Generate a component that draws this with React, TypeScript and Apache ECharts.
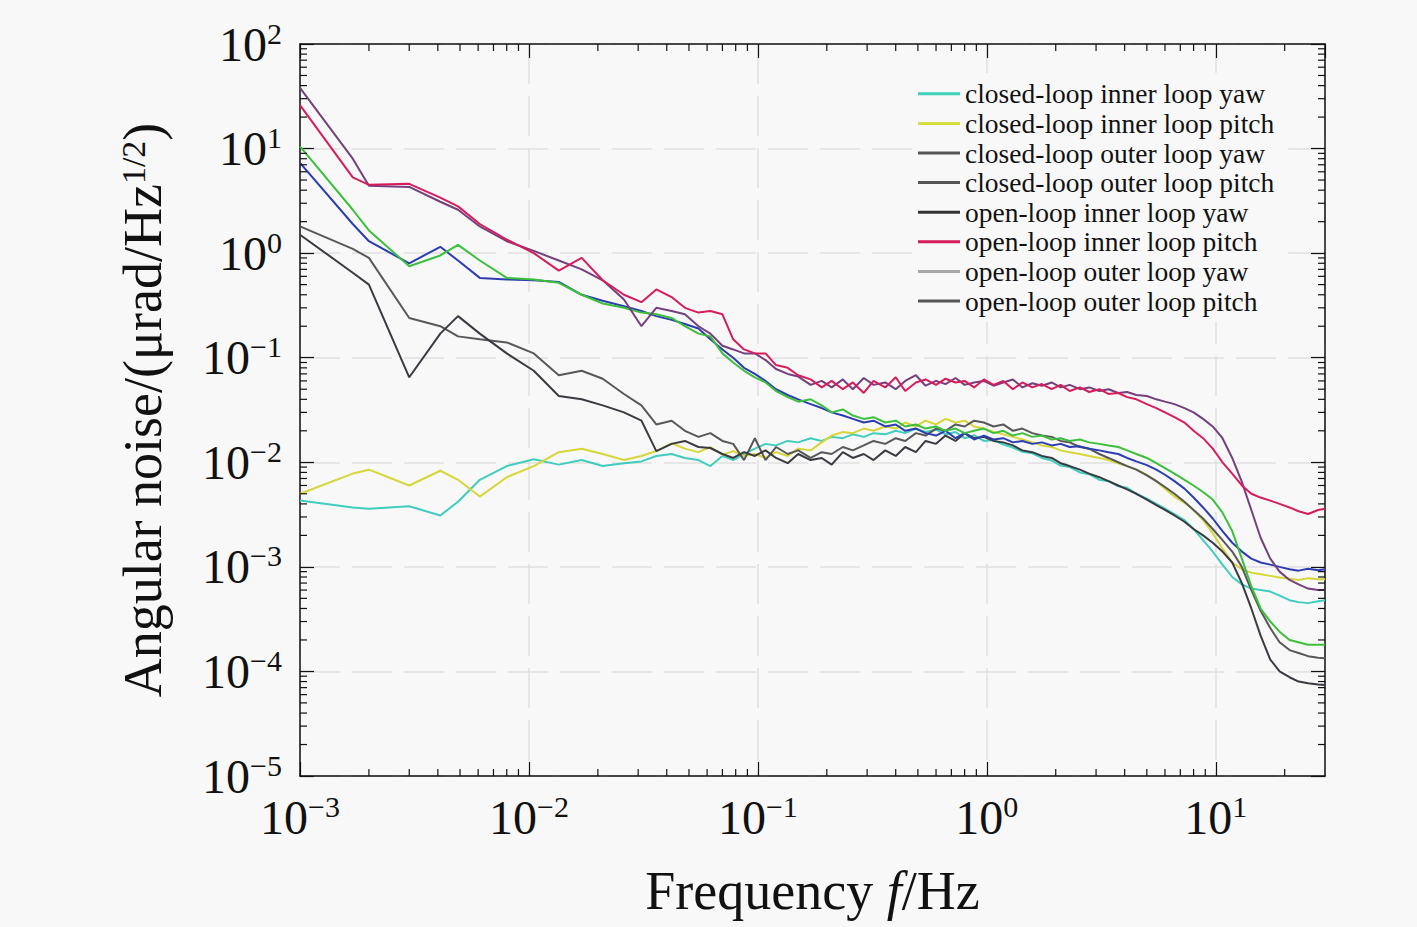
import React, { useEffect, useRef } from "react";
import * as echarts from "echarts";

const FONT = "'Liberation Serif', 'Times New Roman', 'DejaVu Serif', serif";

const FREQ = [
  0.001, 0.0017, 0.002, 0.003, 0.0041, 0.0049, 0.0061, 0.008, 0.0105, 0.0135,
  0.017, 0.021, 0.026, 0.031, 0.036, 0.042, 0.048, 0.055, 0.062, 0.07,
  0.078, 0.087, 0.097, 0.108, 0.12, 0.135, 0.15, 0.17, 0.19, 0.21,
  0.235, 0.26, 0.29, 0.32, 0.36, 0.4, 0.44, 0.49, 0.54, 0.6,
  0.66, 0.73, 0.8, 0.88, 0.97, 1.07, 1.18, 1.3, 1.43, 1.58,
  1.74, 1.92, 2.1, 2.3, 2.55, 2.8, 3.1, 3.4, 3.75, 4.1,
  4.5, 5.0, 5.5, 6.0, 6.6, 7.3, 8.0, 8.8, 9.7, 10.7,
  11.8, 13, 14.3, 15.7, 17.3, 19, 21, 23, 25.3, 28,
  30,
];

const CL_INNER_YAW = [
  0.0043, 0.0037, 0.0036, 0.0038, 0.0031, 0.0042, 0.0068, 0.0092, 0.0107, 0.0095,
  0.0105, 0.0092, 0.0098, 0.0102, 0.0115, 0.012, 0.011, 0.0105, 0.0092, 0.0115,
  0.0105, 0.012, 0.0135, 0.015, 0.0145, 0.016, 0.0155, 0.017, 0.016, 0.0175,
  0.017, 0.0185, 0.0175, 0.019, 0.0185, 0.02, 0.019, 0.021, 0.0195, 0.0205,
  0.0185, 0.0195, 0.017, 0.0182, 0.016, 0.0163, 0.0148, 0.0138, 0.0126, 0.0122,
  0.011, 0.0104, 0.0093, 0.009, 0.008, 0.0077, 0.0068, 0.0066, 0.0059, 0.0057,
  0.005, 0.0045, 0.004, 0.0036, 0.0032, 0.0028, 0.0023, 0.0018, 0.0014, 0.00105,
  0.0008, 0.00068, 0.00062, 0.0006, 0.00058, 0.00053, 0.00048, 0.00046, 0.00045, 0.00047,
  0.00048,
];

const CL_INNER_PITCH = [
  0.005, 0.0078, 0.0085, 0.006, 0.0083, 0.0068, 0.0047, 0.0072, 0.0092, 0.0125,
  0.0135, 0.012, 0.0105, 0.0115, 0.0128, 0.0152, 0.0135, 0.0125, 0.014, 0.0118,
  0.0128, 0.0115, 0.012, 0.011, 0.0125, 0.0115, 0.0135, 0.013, 0.0155, 0.018,
  0.0195, 0.019, 0.021, 0.02, 0.022, 0.021, 0.024, 0.022, 0.025, 0.023,
  0.026, 0.024, 0.025, 0.022, 0.021, 0.0195, 0.0185, 0.0175, 0.0165, 0.0155,
  0.0145, 0.014, 0.013, 0.0125, 0.012, 0.0115, 0.011, 0.0105, 0.0098, 0.0092,
  0.0085, 0.0076, 0.0066, 0.0056, 0.0047, 0.0041, 0.0035, 0.0028, 0.0021, 0.0015,
  0.0011, 0.00095, 0.00088, 0.00085, 0.00082, 0.00079, 0.00077, 0.00075, 0.00078, 0.00076,
  0.00076,
];

const CL_OUTER_YAW = [
  1.8, 1.1, 0.9, 0.24, 0.2, 0.16, 0.15, 0.14, 0.11, 0.068,
  0.075, 0.063, 0.045, 0.035, 0.023, 0.025, 0.02, 0.0175, 0.019, 0.016,
  0.015, 0.0105, 0.017, 0.0105, 0.014, 0.012, 0.013, 0.011, 0.0125, 0.012,
  0.014, 0.013, 0.0145, 0.016, 0.015, 0.017, 0.016, 0.019, 0.018, 0.021,
  0.02, 0.023, 0.022, 0.025, 0.024, 0.022, 0.023, 0.02, 0.021, 0.019,
  0.018, 0.0175, 0.016, 0.0155, 0.014, 0.0135, 0.012, 0.011, 0.01, 0.0092,
  0.0085, 0.0075, 0.0066, 0.0058, 0.005, 0.0042, 0.0035, 0.0029, 0.0023, 0.0018,
  0.0014, 0.001, 0.0006, 0.00038, 0.00026, 0.00019, 0.00016, 0.00015, 0.00014, 0.000135,
  0.000134,
];

const CL_OUTER_PITCH = [
  1.5, 0.65, 0.5, 0.065, 0.17, 0.25, 0.17, 0.11, 0.075, 0.043,
  0.04, 0.035, 0.03, 0.025, 0.0128, 0.015, 0.016, 0.014, 0.0137, 0.012,
  0.011, 0.0125, 0.0115, 0.013, 0.011, 0.0098, 0.012, 0.0105, 0.011, 0.0095,
  0.0125, 0.011, 0.012, 0.0105, 0.013, 0.0115, 0.014, 0.0125, 0.016, 0.015,
  0.018, 0.016, 0.019, 0.017, 0.0175, 0.016, 0.0155, 0.0145, 0.013, 0.0125,
  0.0115, 0.011, 0.0098, 0.0092, 0.0085, 0.0078, 0.0072, 0.0066, 0.006, 0.0055,
  0.005, 0.0044, 0.0039, 0.0035, 0.0031, 0.0027, 0.0023, 0.002, 0.0017, 0.0014,
  0.0011, 0.0007, 0.0004, 0.00022, 0.00013, 0.0001, 0.000088, 0.00008, 0.000077, 0.000075,
  0.000074,
];

const OL_INNER_YAW = [
  38, 8, 4.4, 4.3, 3.1, 2.6, 1.8, 1.3, 1.05, 0.85,
  0.7, 0.55, 0.36, 0.2, 0.3, 0.28, 0.26, 0.2, 0.17, 0.13,
  0.12, 0.11, 0.11, 0.095, 0.078, 0.07, 0.066, 0.055, 0.06, 0.052,
  0.062, 0.05, 0.064, 0.055, 0.058, 0.05, 0.06, 0.068, 0.054, 0.06,
  0.056, 0.064, 0.055, 0.058, 0.06, 0.054, 0.058, 0.062, 0.052, 0.057,
  0.054, 0.058, 0.052, 0.055, 0.05, 0.052, 0.048, 0.05, 0.046, 0.047,
  0.044, 0.043, 0.04, 0.038, 0.036, 0.033, 0.03, 0.026, 0.022, 0.017,
  0.011, 0.0065, 0.0035, 0.0019, 0.0012, 0.0009, 0.00075, 0.00068, 0.00062, 0.0006,
  0.0006,
];

const OL_INNER_PITCH = [
  26, 5.3, 4.5, 4.6, 3.4, 2.8, 1.9, 1.35, 1.0, 0.68,
  0.9, 0.55, 0.4, 0.34, 0.45, 0.38, 0.3, 0.27, 0.28, 0.26,
  0.15, 0.12, 0.11, 0.11, 0.085, 0.08, 0.068, 0.062, 0.052, 0.06,
  0.05, 0.058, 0.046, 0.06, 0.052, 0.065, 0.048, 0.058, 0.062, 0.055,
  0.063, 0.058, 0.06, 0.052, 0.062, 0.055, 0.06, 0.05, 0.058, 0.052,
  0.056, 0.05, 0.055, 0.048, 0.052, 0.047, 0.05, 0.045, 0.046, 0.042,
  0.04, 0.036, 0.033, 0.03, 0.027, 0.024, 0.02, 0.017, 0.0135, 0.01,
  0.0078, 0.006, 0.005, 0.0046, 0.0043, 0.004, 0.0037, 0.0034, 0.0032, 0.0035,
  0.0036,
];

const OL_OUTER_YAW = [
  10.5, 2.6, 1.65, 0.75, 0.95, 1.2, 0.85, 0.58, 0.56, 0.52,
  0.4, 0.33, 0.3, 0.27, 0.26, 0.24, 0.2, 0.17, 0.16, 0.11,
  0.09, 0.075, 0.065, 0.058, 0.048, 0.042, 0.038, 0.04, 0.035, 0.03,
  0.032, 0.028, 0.026, 0.027, 0.024, 0.025, 0.022, 0.023, 0.021, 0.022,
  0.02, 0.021, 0.019, 0.02, 0.021, 0.019, 0.02, 0.018, 0.019, 0.0175,
  0.018, 0.0165, 0.017, 0.016, 0.0165, 0.0155, 0.015, 0.0145, 0.014, 0.013,
  0.012, 0.011, 0.0098, 0.0088, 0.0078, 0.0068, 0.006, 0.0052, 0.0044, 0.0033,
  0.0022, 0.0012, 0.00065, 0.0004, 0.0003, 0.00024, 0.0002, 0.00019, 0.00018, 0.00018,
  0.00018,
];

const OL_OUTER_PITCH = [
  7.3, 1.9, 1.3, 0.8, 1.15, 0.85, 0.58, 0.56, 0.55, 0.53,
  0.4, 0.35, 0.31, 0.28, 0.25, 0.23, 0.21, 0.19, 0.15, 0.12,
  0.1, 0.08, 0.07, 0.06, 0.05, 0.044, 0.04, 0.036, 0.033, 0.03,
  0.028, 0.026, 0.024, 0.025, 0.022, 0.023, 0.02, 0.021, 0.019, 0.018,
  0.02, 0.017, 0.019, 0.0165, 0.018, 0.0165, 0.017, 0.0155, 0.016, 0.015,
  0.0155, 0.0145, 0.015, 0.014, 0.0142, 0.0135, 0.013, 0.0125, 0.012, 0.011,
  0.0102, 0.0094, 0.0085, 0.0076, 0.0066, 0.0056, 0.0046, 0.0037, 0.0029, 0.0022,
  0.0017, 0.0014, 0.0012, 0.0011, 0.00105, 0.001, 0.00095, 0.00092, 0.00096, 0.00093,
  0.00095,
];

const SERIES_NAMES = [
  "closed-loop inner loop yaw",
  "closed-loop inner loop pitch",
  "closed-loop outer loop yaw",
  "closed-loop outer loop pitch",
  "open-loop inner loop yaw",
  "open-loop inner loop pitch",
  "open-loop outer loop yaw",
  "open-loop outer loop pitch",
];
const SERIES_VALUES = [
  CL_INNER_YAW, CL_INNER_PITCH, CL_OUTER_YAW, CL_OUTER_PITCH,
  OL_INNER_YAW, OL_INNER_PITCH, OL_OUTER_YAW, OL_OUTER_PITCH,
];
const LINE_COLORS = [
  "#3fcdbd", "#d6d638", "#585858", "#3a3a42",
  "#74407e", "#d81c5a", "#3cc03c", "#2c3cb2",
];
const LEGEND_COLORS = [
  "#3fd0b8", "#d4e040", "#555555", "#555555",
  "#333333", "#d81c5a", "#a8a8a8", "#555555",
];
const DRAW_ORDER = [0, 1, 2, 3, 7, 6, 4, 5];

const X_MIN = 0.001;
const X_MAX = 30;
const Y_MIN = 1e-5;
const Y_MAX = 100;
const X_DECADES = [-3, -2, -1, 0, 1];
const Y_DECADES = [-5, -4, -3, -2, -1, 0, 1];

function fmtPow(v: number): string {
  const lg = Math.log10(v);
  const e = Math.round(lg);
  if (Math.abs(lg - e) > 1e-6) return "";
  const s = e < 0 ? "\u2212" + Math.abs(e) : String(e);
  return `{b|10}{s|${s}}`;
}

const RICH = {
  b: { fontSize: 48, fontFamily: FONT, color: "#111", lineHeight: 52 },
  s: { fontSize: 30, fontFamily: FONT, color: "#111", verticalAlign: "top", lineHeight: 34 },
};

export default function App() {
  const ref = useRef<HTMLDivElement>(null);
  useEffect(() => {
    document.body.style.margin = "0";
    document.body.style.background = "#f8f8f8";
    const chart = echarts.init(ref.current!, null, { renderer: "svg" });

    const xMinor: number[][] = [];
    X_DECADES.forEach((d) => {
      for (let k = 2; k <= 9; k++) {
        const v = k * Math.pow(10, d);
        if (v < X_MAX - 1) xMinor.push([v, Y_MIN]);
      }
    });
    const yMinor: number[][] = [];
    Y_DECADES.forEach((d) => {
      for (let k = 2; k <= 9; k++) yMinor.push([X_MIN, k * Math.pow(10, d)]);
    });

    const tickStyle = { stroke: "#111", lineWidth: 1.2 };

    const lineSeries = DRAW_ORDER.map((i) => ({
      name: SERIES_NAMES[i],
      type: "line",
      data: FREQ.map((f, j) => [f, SERIES_VALUES[i][j]]),
      symbol: "none",
      showSymbol: false,
      lineStyle: { color: LINE_COLORS[i], width: 2 },
      itemStyle: { color: LINE_COLORS[i] },
      silent: true,
      z: 3,
    }));

    const option: any = {
      animation: false,
      backgroundColor: "#f8f8f8",
      grid: { left: 300, top: 44, right: 92, bottom: 151, containLabel: false },
      legend: {
        orient: "vertical",
        left: 912,
        top: 73,
        padding: [6, 14, 6, 6],
        backgroundColor: "#f8f8f8",
        itemWidth: 42,
        itemHeight: 3,
        itemGap: 0,
        selectedMode: false,
        textStyle: { fontFamily: FONT, fontSize: 27.5, color: "#111", lineHeight: 29.6 },
        data: SERIES_NAMES.map((n, i) => ({
          name: n,
          icon: "rect",
          itemStyle: { color: LEGEND_COLORS[i] },
        })),
      },
      xAxis: [
        {
          type: "log",
          logBase: 10,
          min: X_MIN,
          max: X_MAX,
          position: "bottom",
          axisLine: { show: true, onZero: false, lineStyle: { color: "#111", width: 1.5 } },
          axisTick: { show: true, inside: true, length: 14, lineStyle: { color: "#111", width: 1.2 } },
          axisLabel: { formatter: fmtPow, rich: RICH, margin: 15, showMaxLabel: false },
          splitLine: { show: true, lineStyle: { color: "#e0e0e0", width: 1.5, type: [40, 12] } },
          name: "Frequency {i|f}/Hz",
          nameLocation: "middle",
          nameGap: 88,
          nameTextStyle: {
            fontFamily: FONT,
            fontSize: 54,
            color: "#111",
            rich: { i: { fontFamily: FONT, fontSize: 54, fontStyle: "italic", color: "#111" } },
          },
        },
        {
          type: "log",
          logBase: 10,
          min: X_MIN,
          max: X_MAX,
          position: "top",
          axisLine: { show: true, onZero: false, lineStyle: { color: "#111", width: 1.5 } },
          axisTick: { show: true, inside: true, length: 14, lineStyle: { color: "#111", width: 1.2 } },
          axisLabel: { show: false },
          splitLine: { show: false },
        },
      ],
      yAxis: [
        {
          type: "log",
          logBase: 10,
          min: Y_MIN,
          max: Y_MAX,
          position: "left",
          axisLine: { show: true, onZero: false, lineStyle: { color: "#111", width: 1.5 } },
          axisTick: { show: true, inside: true, length: 14, lineStyle: { color: "#111", width: 1.2 } },
          axisLabel: { formatter: fmtPow, rich: RICH, margin: 18 },
          splitLine: { show: true, lineStyle: { color: "#e0e0e0", width: 1.5, type: [40, 12] } },
          name: "Angular noise/(\u03bcrad/Hz{s|1/2})",
          nameLocation: "middle",
          nameGap: 130,
          nameRotate: 90,
          nameTextStyle: {
            fontFamily: FONT,
            fontSize: 54,
            color: "#111",
            rich: {
              s: { fontFamily: FONT, fontSize: 34, color: "#111", verticalAlign: "top", lineHeight: 40 },
            },
          },
        },
        {
          type: "log",
          logBase: 10,
          min: Y_MIN,
          max: Y_MAX,
          position: "right",
          axisLine: { show: true, onZero: false, lineStyle: { color: "#111", width: 1.5 } },
          axisTick: { show: true, inside: true, length: 14, lineStyle: { color: "#111", width: 1.2 } },
          axisLabel: { show: false },
          splitLine: { show: false },
        },
      ],
      series: [
        ...lineSeries,
        {
          type: "custom",
          silent: true,
          clip: false,
          z: 5,
          data: xMinor,
          renderItem: (_p: any, api: any) => {
            const v = api.value(0);
            const b = api.coord([v, Y_MIN]);
            const t = api.coord([v, Y_MAX]);
            return {
              type: "group",
              children: [
                { type: "line", shape: { x1: b[0], y1: b[1], x2: b[0], y2: b[1] - 7 }, style: tickStyle },
                { type: "line", shape: { x1: t[0], y1: t[1], x2: t[0], y2: t[1] + 7 }, style: tickStyle },
              ],
            };
          },
        },
        {
          type: "custom",
          silent: true,
          clip: false,
          z: 5,
          data: yMinor,
          renderItem: (_p: any, api: any) => {
            const v = api.value(1);
            const l = api.coord([X_MIN, v]);
            const r = api.coord([X_MAX, v]);
            return {
              type: "group",
              children: [
                { type: "line", shape: { x1: l[0], y1: l[1], x2: l[0] + 7, y2: l[1] }, style: tickStyle },
                { type: "line", shape: { x1: r[0], y1: r[1], x2: r[0] - 7, y2: r[1] }, style: tickStyle },
              ],
            };
          },
        },
      ],
    };
    chart.setOption(option);
    return () => chart.dispose();
  }, []);
  return <div ref={ref} style={{ width: 1417, height: 927 }} />;
}
